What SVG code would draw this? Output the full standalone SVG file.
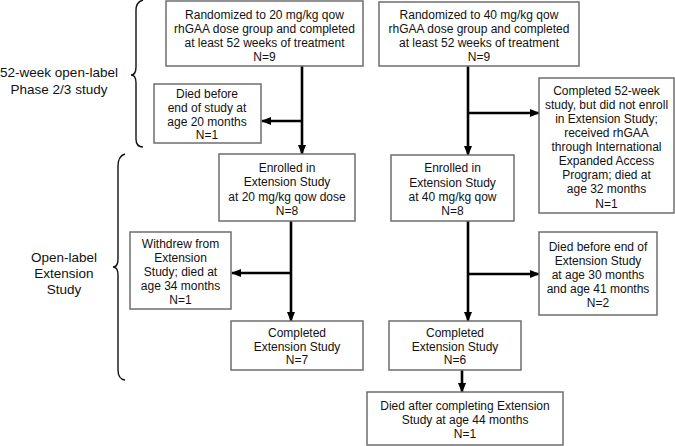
<svg xmlns="http://www.w3.org/2000/svg" width="675" height="446" viewBox="0 0 675 446">
<defs>
<marker id="ah" markerUnits="userSpaceOnUse" markerWidth="10" markerHeight="10" viewBox="0 0 10 10" refX="9" refY="5" orient="auto">
<path d="M0,1 L10,5 L0,9 Z" fill="#000"/>
</marker>
</defs>
<style>
.box{fill:#fff;stroke:#6e6e6e;stroke-width:1.5}
.t{font-family:"Liberation Sans",Arial,sans-serif;font-size:12px;fill:#111;text-anchor:middle}
.lbl{font-family:"Liberation Sans",Arial,sans-serif;font-size:13.5px;fill:#111;text-anchor:middle}
.c{stroke:#000;stroke-width:2.6;fill:none}
.br{stroke:#111;stroke-width:1.4;fill:none}
</style>
<rect width="675" height="446" fill="#fff"/>

<g id="braces">
<path class="br" d="M143,0 Q136,2 136,10 L136,67 Q136,75 131,75 Q136,75 136,83 L136,139 Q136,147 143,147"/>
<text class="lbl" x="59" y="77">52-week open-label</text>
<text class="lbl" x="59" y="94">Phase 2/3 study</text>
<path class="br" d="M125,154 Q118,156 118,166 L118,259 Q118,267 113,267 Q118,267 118,275 L118,370 Q118,379 125,380"/>
<text class="lbl" x="64" y="262">Open-label</text>
<text class="lbl" x="64" y="278">Extension</text>
<text class="lbl" x="64" y="294">Study</text>
</g>

<g id="connectors">
<line class="c" x1="302" y1="66" x2="302" y2="154" marker-end="url(#ah)"/>
<line class="c" x1="302" y1="121" x2="262" y2="121" marker-end="url(#ah)"/>
<line class="c" x1="468" y1="66" x2="468" y2="155" marker-end="url(#ah)"/>
<line class="c" x1="468" y1="113" x2="539" y2="113" marker-end="url(#ah)"/>
<line class="c" x1="291" y1="221" x2="291" y2="321" marker-end="url(#ah)"/>
<line class="c" x1="291" y1="273" x2="232" y2="273" marker-end="url(#ah)"/>
<line class="c" x1="468" y1="221" x2="468" y2="321" marker-end="url(#ah)"/>
<line class="c" x1="468" y1="274" x2="539" y2="274" marker-end="url(#ah)"/>
<line class="c" x1="462" y1="370" x2="462" y2="392" marker-end="url(#ah)"/>
</g>

<g id="rand20">
<rect class="box" x="166" y="1" width="197" height="65"/>
<text class="t" x="264.5" y="18.5">Randomized to 20 mg/kg qow</text>
<text class="t" x="264.5" y="32.5">rhGAA dose group and completed</text>
<text class="t" x="264.5" y="46.5">at least 52 weeks of treatment</text>
<text class="t" x="264.5" y="60.5">N=9</text>
</g>

<g id="rand40">
<rect class="box" x="379" y="2" width="200" height="64"/>
<text class="t" x="479" y="19">Randomized to 40 mg/kg qow</text>
<text class="t" x="479" y="33">rhGAA dose group and  completed</text>
<text class="t" x="479" y="47">at least 52 weeks of treatment</text>
<text class="t" x="479" y="61">N=9</text>
</g>

<g id="died20">
<rect class="box" x="154" y="84" width="107" height="59"/>
<text class="t" x="207" y="97.5">Died before</text>
<text class="t" x="207" y="111.5">end of study at</text>
<text class="t" x="207" y="125.5">age 20 months</text>
<text class="t" x="207" y="139">N=1</text>
</g>

<g id="noenroll">
<rect class="box" x="539" y="78" width="135" height="135"/>
<text class="t" x="606.5" y="94.5">Completed 52-week</text>
<text class="t" x="606.5" y="108.5">study, but did not enroll</text>
<text class="t" x="606.5" y="122.5">in Extension Study;</text>
<text class="t" x="606.5" y="136.5">received rhGAA</text>
<text class="t" x="606.5" y="150.5">through International</text>
<text class="t" x="606.5" y="165">Expanded Access</text>
<text class="t" x="606.5" y="179">Program; died at</text>
<text class="t" x="606.5" y="193">age 32 months</text>
<text class="t" x="606.5" y="207.5">N=1</text>
</g>

<g id="enroll20">
<rect class="box" x="219" y="154" width="136" height="67"/>
<text class="t" x="287" y="171.5">Enrolled in</text>
<text class="t" x="287" y="186">Extension Study</text>
<text class="t" x="287" y="200.5">at 20 mg/kg qow dose</text>
<text class="t" x="287" y="214.5">N=8</text>
</g>

<g id="enroll40">
<rect class="box" x="391" y="155" width="123" height="66"/>
<text class="t" x="452.5" y="171.5">Enrolled in</text>
<text class="t" x="452.5" y="186.5">Extension Study</text>
<text class="t" x="452.5" y="201">at 40 mg/kg qow</text>
<text class="t" x="452.5" y="215">N=8</text>
</g>

<g id="withdrew">
<rect class="box" x="130" y="232" width="101" height="77"/>
<text class="t" x="180.5" y="247.5">Withdrew from</text>
<text class="t" x="180.5" y="261.5">Extension</text>
<text class="t" x="180.5" y="276">Study; died at</text>
<text class="t" x="180.5" y="290">age 34 months</text>
<text class="t" x="180.5" y="303.5">N=1</text>
</g>

<g id="diedext">
<rect class="box" x="539" y="232" width="118" height="83"/>
<text class="t" x="598" y="250.5">Died before end of</text>
<text class="t" x="598" y="264.5">Extension Study</text>
<text class="t" x="598" y="278.5">at age 30 months</text>
<text class="t" x="598" y="292.5">and age 41 months</text>
<text class="t" x="598" y="307">N=2</text>
</g>

<g id="comp20">
<rect class="box" x="231" y="321" width="132" height="49"/>
<text class="t" x="297" y="336.5">Completed</text>
<text class="t" x="297" y="350.5">Extension Study</text>
<text class="t" x="297" y="363.5">N=7</text>
</g>

<g id="comp40">
<rect class="box" x="389" y="321" width="132" height="49"/>
<text class="t" x="455" y="336.5">Completed</text>
<text class="t" x="455" y="350.5">Extension Study</text>
<text class="t" x="455" y="363.5">N=6</text>
</g>

<g id="diedafter">
<rect class="box" x="367" y="392" width="196" height="53"/>
<text class="t" x="465" y="409.5">Died after completing Extension</text>
<text class="t" x="465" y="423.5">Study at age 44 months</text>
<text class="t" x="465" y="437.5">N=1</text>
</g>
</svg>
